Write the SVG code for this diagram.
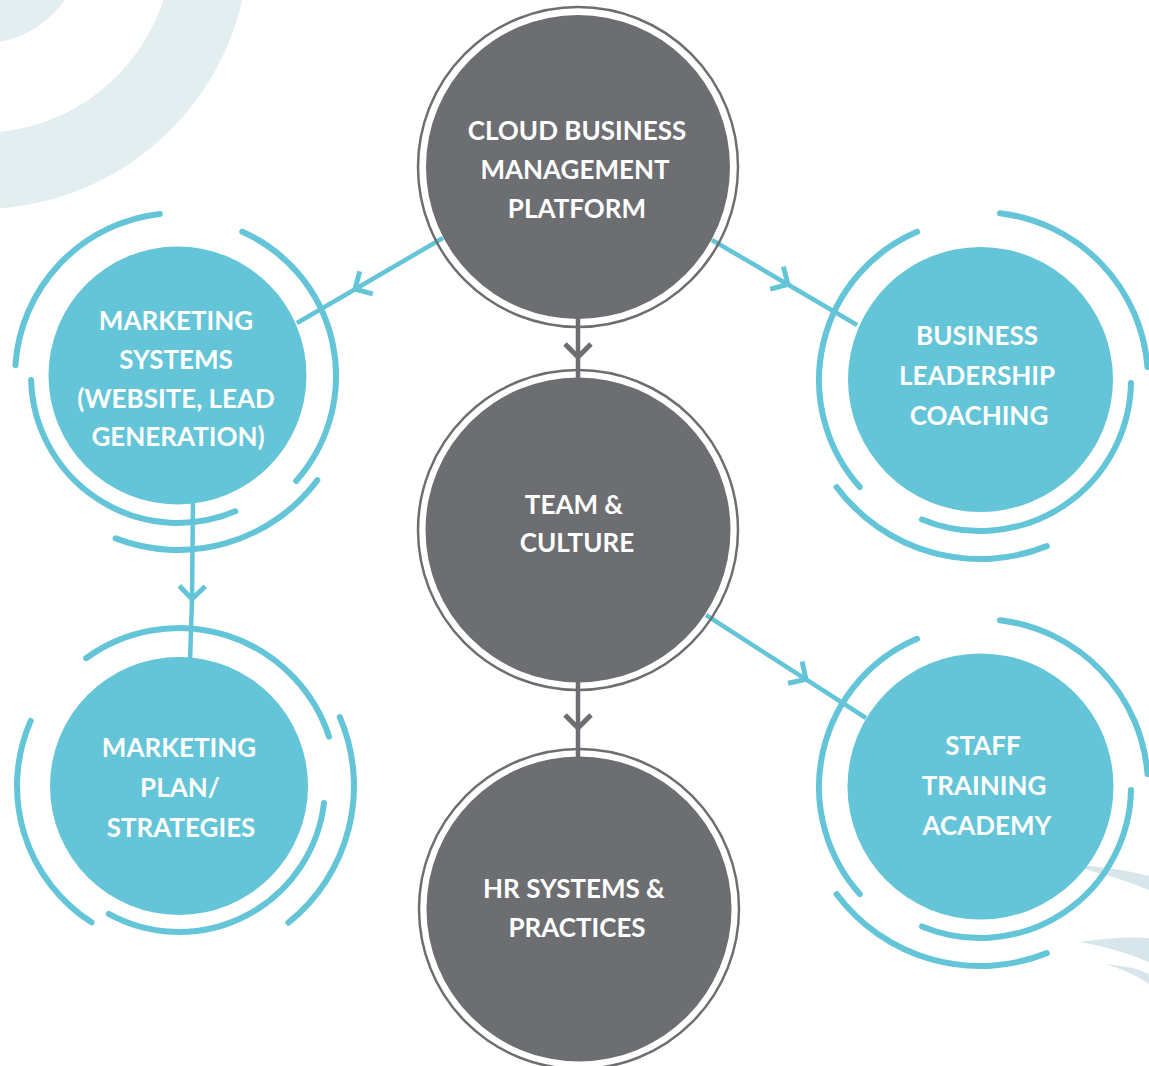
<svg xmlns="http://www.w3.org/2000/svg" width="1149" height="1066" viewBox="0 0 1149 1066">
<style>
.bg{fill:#e3eef1}
.bg2{fill:#d6e6ea}
.gfill{fill:#6d6e71}
.gring{fill:none;stroke:#6d6e71;stroke-width:2.5}
.bfill{fill:#63c5d7}
.arc{fill:none;stroke:#63c5d7;stroke-width:6;stroke-linecap:round}
.cb{fill:none;stroke:#63c5d7;stroke-width:4.5;marker-mid:url(#chev-b)}
.cg{fill:none;stroke:#6d6e71;stroke-width:4.5;marker-mid:url(#chev-g)}
.t{font-family:Lato,"Open Sans","Liberation Sans",sans-serif;font-weight:700;font-size:26px;fill:#ffffff;text-anchor:middle}
</style>
<defs>
<marker id="chev-b" markerUnits="userSpaceOnUse" viewBox="-20 -20 40 40" markerWidth="40" markerHeight="40" refX="0" refY="0" orient="auto">
<path d="M-13,-13 L0,0 L-13,13" fill="none" stroke="#63c5d7" stroke-width="5"/>
</marker>
<marker id="chev-g" markerUnits="userSpaceOnUse" viewBox="-20 -20 40 40" markerWidth="40" markerHeight="40" refX="0" refY="0" orient="auto">
<path d="M-13,-13 L0,0 L-13,13" fill="none" stroke="#6d6e71" stroke-width="5"/>
</marker>
</defs>
<rect width="1149" height="1066" fill="#ffffff"/>
<g id="background">
<circle class="bg" cx="-20" cy="-60" r="104"/>
<path class="bg" fill-rule="evenodd" d="M-20,-329 A269,269 0 1 1 -20,209 A269,269 0 1 1 -20,-329 Z M-20,-253 A193,193 0 1 0 -20,133 A193,193 0 1 0 -20,-253 Z"/>
<path class="bg2" d="M1062,864 Q1110,866 1149,876 L1149,890 Q1110,874 1062,864 Z"/>
<path class="bg2" d="M1080,942 Q1120,936 1149,938 L1149,962 Q1115,948 1080,942 Z"/>
<path class="bg2" d="M1105,964 Q1132,966 1149,974 L1149,984 Q1130,971 1105,964 Z"/>
</g>
<g id="connectors">
<path class="cb" d="M443,238 L355,289.2 L297,323"/>
<path class="cb" d="M712,240 L788,284.5 L857,325"/>
<path class="cb" d="M706,615 L806,679.4 L866,718"/>
<path class="cb" d="M193,500 L192,599 L190,662"/>
<path class="cg" d="M578,315 L578,357 L578,382"/>
<path class="cg" d="M578,680 L578,728 L578,760"/>
</g>
<g id="node-cloud">
<circle class="gring" cx="578" cy="167" r="160"/>
<circle class="gfill" cx="578" cy="167" r="152"/>
<text class="t" x="577" y="140">CLOUD BUSINESS</text>
<text class="t" x="575" y="179">MANAGEMENT</text>
<text class="t" x="577" y="218">PLATFORM</text>
</g>
<g id="node-team">
<circle class="gring" cx="578" cy="530" r="160"/>
<circle class="gfill" cx="578" cy="530" r="152.5"/>
<text class="t" x="574" y="514">TEAM &amp;</text>
<text class="t" x="577" y="552">CULTURE</text>
</g>
<g id="node-hr">
<circle class="gring" cx="579" cy="909" r="160"/>
<circle class="gfill" cx="579" cy="909" r="152.5"/>
<text class="t" x="574" y="898">HR SYSTEMS &amp;</text>
<text class="t" x="577" y="937">PRACTICES</text>
</g>
<g id="node-marketing-systems">
<path class="arc" d="M15.4,365.2 A163,163 0 0 1 159.8,214"/>
<path class="arc" d="M242.3,231.7 A158,158 0 0 1 296.2,480.9"/>
<path class="arc" d="M235.4,511.3 A147,147 0 0 1 31.1,379.9"/>
<path class="arc" d="M317.3,480.2 A174,174 0 0 1 115.6,538.4"/>
<circle class="bfill" cx="177.5" cy="375.5" r="129"/>
<text class="t" x="176" y="330">MARKETING</text>
<text class="t" x="176" y="369">SYSTEMS</text>
<text class="t" x="176" y="408">(WEBSITE, LEAD</text>
<text class="t" x="178" y="446">GENERATION)</text>
</g>
<g id="node-marketing-plan">
<path class="arc" d="M86.1,658.2 A158,158 0 0 1 329.1,736.7"/>
<path class="arc" d="M339.8,717.1 A175,175 0 0 1 288.4,922.6"/>
<path class="arc" d="M324,803 A146,146 0 0 1 108.7,913.9"/>
<path class="arc" d="M91.5,922.3 A162,162 0 0 1 30.7,720.9"/>
<circle class="bfill" cx="179" cy="786" r="129"/>
<text class="t" x="179" y="757">MARKETING</text>
<text class="t" x="180" y="797">PLAN/</text>
<text class="t" x="181" y="837">STRATEGIES</text>
</g>
<g id="node-business-leadership">
<path class="arc" d="M859.8,487.1 A161,161 0 0 1 917.1,231.8"/>
<path class="arc" d="M999.9,213.2 A168,168 0 0 1 1147.5,367.1"/>
<path class="arc" d="M1131,382.9 A151,151 0 0 1 922,519.4"/>
<path class="arc" d="M1046.8,546.1 A179,179 0 0 1 836.7,487.2"/>
<circle class="bfill" cx="980.5" cy="379.5" r="132.5"/>
<text class="t" x="977" y="345">BUSINESS</text>
<text class="t" x="977" y="385">LEADERSHIP</text>
<text class="t" x="979" y="425">COACHING</text>
</g>
<g id="node-staff-training">
<path class="arc" d="M859.8,894.1 A161,161 0 0 1 917.1,638.8"/>
<path class="arc" d="M999.9,620.2 A168,168 0 0 1 1147.5,774.1"/>
<path class="arc" d="M1131,789.9 A151,151 0 0 1 922,926.4"/>
<path class="arc" d="M1046.8,953.1 A179,179 0 0 1 836.7,894.2"/>
<circle class="bfill" cx="980.5" cy="786.5" r="133"/>
<text class="t" x="983" y="755">STAFF</text>
<text class="t" x="984" y="795">TRAINING</text>
<text class="t" x="987" y="835">ACADEMY</text>
</g>
</svg>
